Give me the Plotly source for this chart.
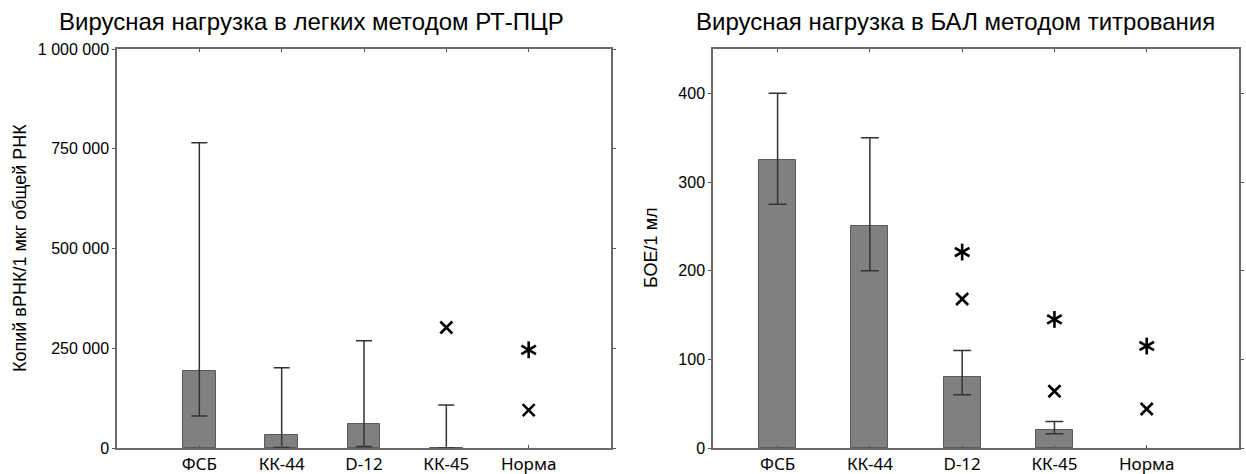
import plotly.graph_objects as go

categories = ["ФСБ", "КК-44", "D-12", "КК-45", "Норма"]
cat_pos = [1, 2, 3, 4, 5]

# Left panel: RT-PCR (copies vRNA / 1 ug total RNA)
pcr_bar = [193000, 33000, 61000, 1000]
pcr_hi = [765000, 201000, 269000, 108000]
pcr_lo = [80000, 1000, 4000, 0]
pcr_x_cat = [4, 5]
pcr_x_val = [302000, 95000]
pcr_star_cat = [5]
pcr_star_val = [246000]
pcr_ticks = [0, 250000, 500000, 750000, 1000000]
pcr_ticktext = ["0", "250 000", "500 000", "750 000", "1 000 000"]

# Right panel: titration (PFU / 1 ml)
tit_bar = [325, 250, 80, 20]
tit_hi = [400, 350, 110, 30]
tit_lo = [275, 200, 60, 16]
tit_x_cat = [3, 4, 5]
tit_x_val = [168, 64, 44]
tit_star_cat = [3, 4, 5]
tit_star_val = [221, 145, 115]
tit_ticks = [0, 100, 200, 300, 400]

BAR = "#808080"
ERR = "#333333"

fig = go.Figure()

def add_panel(xa, ya, bars, hi, lo, xc, xv, sc, sv, capw):
    fig.add_trace(go.Bar(
        x=cat_pos[:len(bars)], y=bars, width=0.4,
        marker=dict(color=BAR, line=dict(color="#5a5a5a", width=1)),
        error_y=dict(type="data", symmetric=False,
                     array=[h - b for h, b in zip(hi, bars)],
                     arrayminus=[b - l for b, l in zip(bars, lo)],
                     color=ERR, thickness=1.5, width=capw),
        xaxis=xa, yaxis=ya, showlegend=False))
    fig.add_trace(go.Scatter(
        x=xc, y=xv, mode="markers",
        marker=dict(symbol="x-thin-open", size=12, color="black",
                    line=dict(width=2.6, color="black")),
        xaxis=xa, yaxis=ya, showlegend=False))
    # six-armed asterisk built from three rotated line markers
    for ang in (0, 60, 120):
        fig.add_trace(go.Scatter(
            x=sc, y=sv, mode="markers",
            marker=dict(symbol="line-ns-open", size=12, angle=ang,
                        color="black", line=dict(width=2.6, color="black")),
            xaxis=xa, yaxis=ya, showlegend=False))

add_panel("x", "y", pcr_bar, pcr_hi, pcr_lo, pcr_x_cat, pcr_x_val,
          pcr_star_cat, pcr_star_val, 8)
add_panel("x2", "y2", tit_bar, tit_hi, tit_lo, tit_x_cat, tit_x_val,
          tit_star_cat, tit_star_val, 9)

W, H = 1246, 474
TOP, BOT = 49, 448
PH = BOT - TOP

def py(pix):
    # pixel row (from top) -> paper y relative to plot area
    return (BOT - pix) / PH

axis_common = dict(showgrid=False, zeroline=False, showline=True,
                   linecolor="#6a6a6a", linewidth=1.5, mirror="ticks",
                   automargin=False)
xfont = dict(family="Noto Sans, Open Sans, sans-serif", size=17, color="black")
yfont = dict(family="Liberation Sans, Arial, sans-serif", size=16, color="black")
tfont = dict(family="Liberation Sans, Arial, sans-serif", size=24, color="black")
lfont = dict(family="Liberation Sans, Arial, sans-serif", size=18, color="black")

fig.update_layout(
    width=W, height=H,
    margin=dict(l=0, r=0, t=TOP, b=H - BOT, autoexpand=False),
    paper_bgcolor="white", plot_bgcolor="white",
    bargap=0,
    xaxis=dict(domain=[117 / W, 611 / W], range=[0, 6],
               tickvals=cat_pos, ticktext=categories, ticks="inside",
               ticklen=3, tickcolor="#555", tickfont=xfont, anchor="y",
               **axis_common),
    yaxis=dict(domain=[0, 1], range=[0, 1000000],
               tickvals=pcr_ticks, ticktext=pcr_ticktext, ticks="outside",
               ticklen=3, tickcolor="#555", tickfont=yfont, anchor="x",
               **axis_common),
    xaxis2=dict(domain=[713 / W, 1239 / W], range=[0.3, 6],
                tickvals=cat_pos, ticktext=categories, ticks="inside",
                ticklen=3, tickcolor="#555", tickfont=xfont, anchor="y2",
                **axis_common),
    yaxis2=dict(domain=[0, 1], range=[0, 450],
                tickvals=tit_ticks, ticks="outside",
                ticklen=3, tickcolor="#555", tickfont=yfont, anchor="x2",
                **axis_common),
    annotations=[
        dict(text="Вирусная нагрузка в легких методом РТ-ПЦР",
             x=311 / W, y=py(22), xref="paper", yref="paper",
             showarrow=False, xanchor="center", yanchor="middle", font=tfont),
        dict(text="Вирусная нагрузка в БАЛ методом титрования",
             x=955 / W, y=py(22), xref="paper", yref="paper",
             showarrow=False, xanchor="center", yanchor="middle", font=tfont),
        dict(text="Копий вРНК/1 мкг общей РНК", textangle=-90,
             x=20 / W, y=py(248), xref="paper", yref="paper",
             showarrow=False, xanchor="center", yanchor="middle", font=lfont),
        dict(text="БОЕ/1 мл", textangle=-90,
             x=651 / W, y=py(248), xref="paper", yref="paper",
             showarrow=False, xanchor="center", yanchor="middle", font=lfont),
    ],
)

fig.write_html("out.html")
